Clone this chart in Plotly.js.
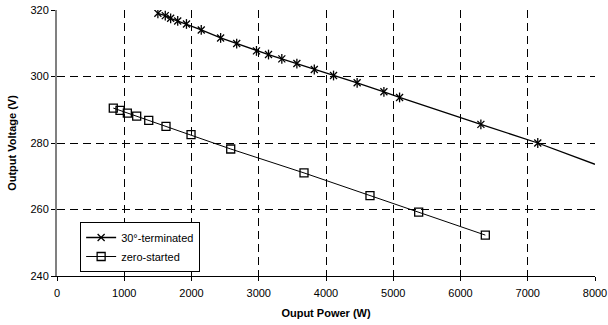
<!DOCTYPE html>
<html>
<head>
<meta charset="utf-8">
<script src="https://cdn.plot.ly/plotly-3.0.1.min.js"></script>
<style>html,body{margin:0;padding:0;background:#fff;}#chart{width:608px;height:325px;}</style>
</head>
<body>
<div id="chart"></div>
<script>
// 30°-terminated series
const termPower = [1500, 1610, 1690, 1795, 1925, 2145, 2433, 2672, 2966, 3145, 3343, 3567, 3826, 4112, 4463, 4861, 5094, 6303, 7149];
const termVolt  = [319.0, 318.3, 317.5, 316.7, 315.8, 314.0, 311.6, 309.9, 307.7, 306.6, 305.3, 303.9, 302.1, 300.3, 298.1, 295.4, 293.7, 285.6, 280.0];
// trend continuation of the 30°-terminated line
const trendPower = [7149, 8000];
const trendVolt  = [280.0, 273.6];
// zero-started series
const zeroPower = [837, 937, 1046, 1185, 1364, 1621, 1993, 2583, 3673, 4654, 5378, 6369];
const zeroVolt  = [290.5, 289.8, 289.0, 288.1, 286.8, 285.0, 282.5, 278.2, 271.0, 264.2, 259.2, 252.3];
const xTicks = [0, 1000, 2000, 3000, 4000, 5000, 6000, 7000, 8000];
const yTicks = [240, 260, 280, 300, 320];

const traces = [
  {x: trendPower, y: trendVolt, mode: 'lines', line: {color: '#000', width: 1.3}, showlegend: false, hoverinfo: 'skip'},
  {x: termPower, y: termVolt, mode: 'markers', marker: {symbol: 'line-ns-open', size: 7, color: '#000', line: {color: '#000', width: 1.3}}, showlegend: false, hoverinfo: 'skip'},
  {x: termPower, y: termVolt, name: '30°-terminated', mode: 'lines+markers', line: {color: '#000', width: 1.3},
   marker: {symbol: 'x-thin-open', size: 7, color: '#000', line: {color: '#000', width: 1.3}}},
  {x: zeroPower, y: zeroVolt, name: 'zero-started', mode: 'lines+markers', line: {color: '#000', width: 1},
   marker: {symbol: 'square-open', size: 8, color: '#000', line: {color: '#000', width: 1.3}}}
];

const layout = {
  width: 608, height: 325,
  margin: {l: 57, r: 13, t: 10, b: 49},
  paper_bgcolor: '#fff', plot_bgcolor: '#fff',
  font: {family: 'Liberation Sans, Arial, sans-serif', size: 11, color: '#000'},
  xaxis: {
    range: [0, 8000], tickvals: xTicks, ticktext: xTicks.map(String),
    showgrid: true, gridcolor: '#000', gridwidth: 1, griddash: '8px,5px',
    showline: true, linecolor: '#000', linewidth: 1,
    ticks: 'outside', ticklen: 4, tickcolor: '#000', zeroline: false,
    ticklabelstandoff: 3,
    title: {text: '<b>Ouput Power (W)</b>', font: {size: 11}, standoff: 11},
    tickfont: {size: 11}
  },
  yaxis: {
    range: [240, 320], tickvals: yTicks, ticktext: yTicks.map(String),
    showgrid: true, gridcolor: '#000', gridwidth: 1, griddash: '8px,5px',
    showline: true, linecolor: '#808080', linewidth: 2,
    ticks: 'outside', ticklen: 4, tickcolor: '#000', zeroline: false,
    title: {text: '<b>Output Voltage (V)</b>', font: {size: 11}, standoff: 12},
    tickfont: {size: 11}
  },
  legend: {
    x: 0.043, y: 0.015, xanchor: 'left', yanchor: 'bottom',
    bgcolor: '#fff', bordercolor: '#000', borderwidth: 1,
    font: {size: 11}, tracegroupgap: 0, itemwidth: 30
  },
  showlegend: true
};

Plotly.newPlot('chart', traces, layout, {staticPlot: true, displayModeBar: false});
</script>
</body>
</html>
